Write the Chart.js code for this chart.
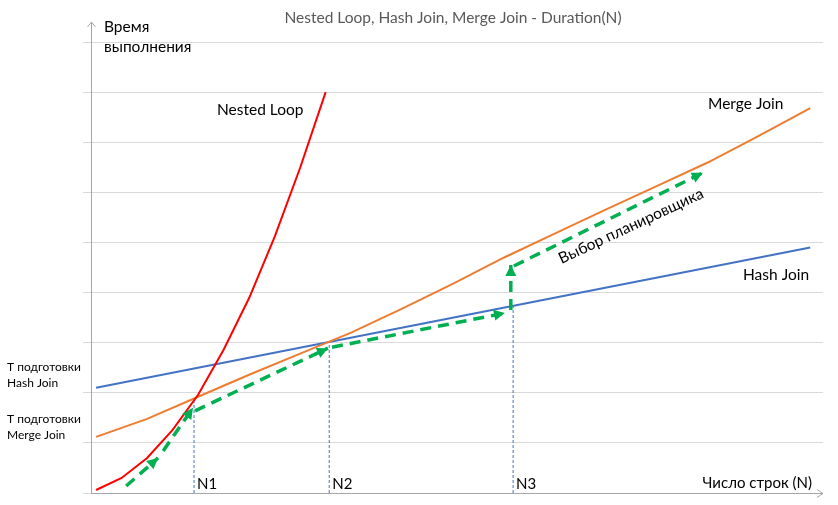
<!DOCTYPE html>
<html lang="ru">
<head>
<meta charset="utf-8">
<title>Nested Loop, Hash Join, Merge Join - Duration(N)</title>
<script src="https://cdn.jsdelivr.net/npm/chart.js@4.4.1/dist/chart.umd.min.js"></script>
<style>
  html, body { margin: 0; padding: 0; background: #fff; }
  #wrap { width: 838px; height: 505px; position: relative; }
</style>
</head>
<body>
<div id="wrap"><canvas id="joins"></canvas></div>
<script>
// Число строк (N) - условные шаги по оси X, время - условные единицы (одна клетка сетки = 1)
const nestedRows = [0, 1, 2, 3, 4, 5, 6, 7, 8, 9];
const nestedTime = [0.06, 0.30, 0.70, 1.26, 1.96, 2.86, 3.89, 5.11, 6.49, 8.0];

const mergeRows = [0, 2, 4, 6, 8, 10, 12, 14, 16, 18, 20, 22, 24, 26, 28];
const mergeTime = [1.12, 1.48, 1.92, 2.36, 2.78, 3.2, 3.68, 4.18, 4.7, 5.18, 5.66, 6.13, 6.6, 7.13, 7.68];

const hashRows = [0, 28];
const hashTime = [2.1, 4.9];

// точки переключения и до какой высоты идёт пунктир
const switchNames = ['N1', 'N2', 'N3'];
const switchRows = [3.84, 9.14, 16.35];
const switchTime = [1.87, 3.01, 3.73];

// путь "Выбор планировщика": начало и конец каждой стрелки
const plannerFrom = [[1.18, 0.14], [2.63, 0.84], [3.88, 1.64], [9.25, 2.91], [16.26, 3.65], [16.38, 4.53]];
const plannerTo   = [[2.43, 0.70], [3.80, 1.70], [9.09, 2.89], [16.03, 3.59], [16.26, 4.55], [23.79, 6.39]];

const gridSteps = 9;

const pts = (xs, ys) => xs.map((x, i) => ({ x: x, y: ys[i] }));

const plannerData = plannerFrom.flatMap((a, i) => [
    { x: a[0], y: a[1] },
    { x: plannerTo[i][0], y: plannerTo[i][1] },
    { x: plannerTo[i][0], y: null }
]);

const switchData = switchRows.flatMap((x, i) => [
    { x: x, y: 0 },
    { x: x, y: switchTime[i] },
    { x: x, y: null }
]);

const FONT = 'Lato, "Open Sans", sans-serif';

const axesPlugin = {
    id: 'axes',
    beforeDatasetsDraw(chart) {
        const { ctx, chartArea: a } = chart;
        ctx.save();
        ctx.strokeStyle = '#a6a6a6';
        ctx.lineWidth = 1;
        ctx.beginPath();
        // ось Y со стрелкой
        ctx.moveTo(a.left + 0.5, a.bottom);
        ctx.lineTo(a.left + 0.5, a.top - 20);
        ctx.moveTo(a.left - 3.5, a.top - 15);
        ctx.lineTo(a.left + 0.5, a.top - 20);
        ctx.lineTo(a.left + 4.5, a.top - 15);
        // ось X со стрелкой
        ctx.moveTo(a.left, a.bottom + 0.5);
        ctx.lineTo(a.right, a.bottom + 0.5);
        ctx.moveTo(a.right - 6, a.bottom - 3.5);
        ctx.lineTo(a.right, a.bottom + 0.5);
        ctx.lineTo(a.right - 6, a.bottom + 4.5);
        ctx.stroke();
        ctx.restore();
    }
};

const notesPlugin = {
    id: 'notes',
    afterDatasetsDraw(chart) {
        const { ctx } = chart;
        const xs = chart.scales.x, ys = chart.scales.y;
        ctx.save();
        ctx.fillStyle = '#00b050';
        plannerFrom.forEach((a, i) => {
            const b = plannerTo[i];
            const x0 = xs.getPixelForValue(a[0]), y0 = ys.getPixelForValue(a[1]);
            const x1 = xs.getPixelForValue(b[0]), y1 = ys.getPixelForValue(b[1]);
            const ang = Math.atan2(y1 - y0, x1 - x0);
            ctx.save();
            ctx.translate(x1, y1);
            ctx.rotate(ang);
            ctx.beginPath();
            ctx.moveTo(0, 0);
            ctx.lineTo(-11, -5.5);
            ctx.lineTo(-11, 5.5);
            ctx.closePath();
            ctx.fill();
            ctx.restore();
        });
        ctx.restore();
    },
    afterDraw(chart) {
        const { ctx } = chart;
        const xs = chart.scales.x;
        ctx.save();
        ctx.textBaseline = 'middle';

        ctx.fillStyle = '#595959';
        ctx.textAlign = 'center';
        ctx.font = '15.5px ' + FONT;
        ctx.fillText('Nested Loop, Hash Join, Merge Join - Duration(N)', 453, 18);

        ctx.fillStyle = '#000';
        ctx.textAlign = 'left';
        ctx.font = '15.5px ' + FONT;
        ctx.fillText('Время', 104, 27);
        ctx.fillText('выполнения', 104, 47);
        ctx.fillText('Nested Loop', 217, 110);
        ctx.fillText('Merge Join', 708, 104);
        ctx.fillText('Hash Join', 743, 275);

        ctx.font = '15px ' + FONT;
        switchNames.forEach((n, i) => {
            ctx.fillText(n, xs.getPixelForValue(switchRows[i]) + 3, 484);
        });

        ctx.textAlign = 'right';
        ctx.fillText('Число строк (N)', 812, 483);

        ctx.textAlign = 'left';
        ctx.font = '12px ' + FONT;
        ctx.fillText('Т подготовки', 7, 367);
        ctx.fillText('Hash Join', 7, 383);
        ctx.fillText('Т подготовки', 7, 419);
        ctx.fillText('Merge Join', 7, 435);

        ctx.font = '15.5px ' + FONT;
        ctx.textAlign = 'center';
        ctx.translate(631, 226);
        ctx.rotate(-25 * Math.PI / 180);
        ctx.fillText('Выбор планировщика', 0, 0);
        ctx.restore();
    }
};

new Chart(document.getElementById('joins'), {
    type: 'line',
    data: {
        datasets: [
            {
                label: 'Выбор планировщика',
                data: plannerData,
                borderColor: '#00b050',
                borderWidth: 3.5,
                borderDash: [11, 7],
                spanGaps: false,
                order: 0
            },
            {
                label: 'Nested Loop',
                data: pts(nestedRows, nestedTime),
                borderColor: '#ff0000',
                borderWidth: 2,
                order: 1
            },
            {
                label: 'Merge Join',
                data: pts(mergeRows, mergeTime),
                borderColor: '#ed7d31',
                borderWidth: 2,
                order: 2
            },
            {
                label: 'Hash Join',
                data: pts(hashRows, hashTime),
                borderColor: '#4472c4',
                borderWidth: 2,
                order: 3
            },
            {
                label: 'N',
                data: switchData,
                borderColor: '#4472c4',
                borderWidth: 1,
                borderDash: [3, 2],
                spanGaps: false,
                order: 4
            }
        ]
    },
    options: {
        responsive: true,
        maintainAspectRatio: false,
        animation: false,
        events: [],
        layout: { padding: { left: 83, top: 42, right: 15, bottom: 12 } },
        elements: { point: { radius: 0 }, line: { tension: 0, fill: false } },
        plugins: { legend: { display: false }, tooltip: { enabled: false }, title: { display: false } },
        scales: {
            x: { type: 'linear', min: -0.2, max: 28.5, display: false },
            y: {
                type: 'linear',
                min: 0,
                max: gridSteps,
                border: { display: false },
                grid: { color: '#d9d9d9', lineWidth: 1, tickLength: 8, drawTicks: true },
                ticks: { stepSize: 1, display: false }
            }
        }
    },
    plugins: [axesPlugin, notesPlugin]
});
</script>
</body>
</html>
